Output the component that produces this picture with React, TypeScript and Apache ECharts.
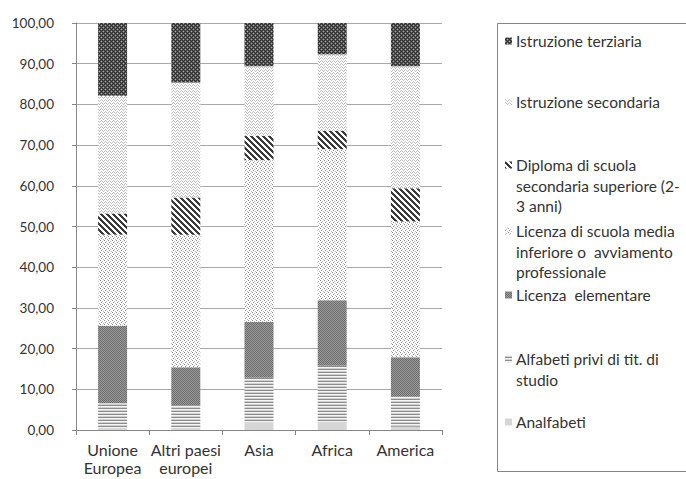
import React, { useEffect, useRef } from "react";
import * as echarts from "echarts";

// Area di provenienza (etichette dell'asse x)
const categories = ["Unione\nEuropea", "Altri paesi\neuropei", "Asia", "Africa", "America"];

// Titolo di studio, valori percentuali per area
const analfabeti = [0.3, 0.3, 1.8, 2.05, 0.8];
const alfabetiPrivi = [6.3, 5.8, 11.05, 13.75, 7.4];
const licenzaElementare = [19.0, 9.3, 13.75, 16.1, 9.65];
const licenzaMedia = [22.4, 32.6, 39.7, 37.1, 33.35];
const diploma = [5.2, 9.1, 6.0, 4.5, 8.2];
const istruzioneSecondaria = [28.9, 28.3, 17.1, 18.8, 30.0];
const istruzioneTerziaria = [17.9, 14.6, 10.6, 7.7, 10.6];

// Nomi delle serie, dal basso verso l'alto della pila
const seriesNames = [
  "Analfabeti",
  "Alfabeti privi di tit. di studio",
  "Licenza  elementare",
  "Licenza di scuola media inferiore o  avviamento professionale",
  "Diploma di scuola secondaria superiore (2-3 anni)",
  "Istruzione secondaria",
  "Istruzione terziaria",
];
const seriesData = [
  analfabeti,
  alfabetiPrivi,
  licenzaElementare,
  licenzaMedia,
  diploma,
  istruzioneSecondaria,
  istruzioneTerziaria,
];

// Testo della legenda (dall'alto verso il basso) con gli a capo
const legendLabels = [
  "Istruzione terziaria",
  "Istruzione secondaria",
  "Diploma di scuola\nsecondaria superiore (2-\n3 anni)",
  "Licenza di scuola media\ninferiore o  avviamento\nprofessionale",
  "Licenza  elementare",
  "Alfabeti privi di tit. di\nstudio",
  "Analfabeti",
];
const legendLineY = [41, 102, 165, 231, 295, 359, 422];

type Tile = { rows: string[]; colors: Record<string, string> };

const tiles: Tile[] = [
  // Analfabeti: grigio chiaro pieno
  { rows: ["a"], colors: { a: "#d6d6d6" } },
  // Alfabeti privi: righe orizzontali
  { rows: ["g", "w", "l"], colors: { g: "#8c8c8c", w: "#f4f4f4", l: "#d2d2d2" } },
  // Licenza elementare: grigio medio a scacchi fini
  { rows: ["mlml", "lmlm", "mlml", "lmlm"], colors: { m: "#6c6c6c", l: "#9c9c9c" } },
  // Licenza media: puntinato chiaro
  { rows: ["a...", "..b.", ".a..", "...b"], colors: { a: "#8a8a8a", b: "#b8b8b8", ".": "#ffffff" } },
  // Diploma: tratteggio diagonale
  {
    rows: ["ddd...", ".ddd..", "..ddd.", "...ddd", "d...dd", "dd...d"],
    colors: { d: "#3a3a3a", ".": "#ffffff" },
  },
  // Istruzione secondaria: onde chiare
  { rows: [".g..", "g.g.", "...g"], colors: { g: "#bcbcbc", ".": "#ffffff" } },
  // Istruzione terziaria: scuro puntinato
  { rows: ["dmdm", "mlmd", "dmdm", "mdml"], colors: { d: "#2e2e2e", m: "#5a5a5a", l: "#adadad" } },
];

function makePattern(t: Tile) {
  const w = t.rows[0].length;
  const h = t.rows.length;
  const c = document.createElement("canvas");
  c.width = w;
  c.height = h;
  const ctx = c.getContext("2d")!;
  for (let y = 0; y < h; y++) {
    for (let x = 0; x < w; x++) {
      ctx.fillStyle = t.colors[t.rows[y][x]];
      ctx.fillRect(x, y, 1, 1);
    }
  }
  return { image: c, repeat: "repeat", imageWidth: w, imageHeight: h } as any;
}

export default function App() {
  const ref = useRef<HTMLDivElement>(null);

  useEffect(() => {
    document.body.style.margin = "0";
    document.documentElement.style.overflow = "hidden";
    if (!ref.current) return;
    const chart = echarts.init(ref.current, undefined, { renderer: "svg" });
    const patterns = tiles.map(makePattern);
    const font = "Lato";
    const textColor = "#333333";
    const lineH = 20.7;

    const legendGraphics: any[] = [
      {
        type: "rect",
        shape: { x: 497.5, y: 23.5, width: 190, height: 448 },
        style: { fill: "none", stroke: "#868686", lineWidth: 1 },
        silent: true,
      },
    ];
    legendLabels.forEach((label, i) => {
      const seriesIdx = seriesNames.length - 1 - i;
      const y = legendLineY[i];
      legendGraphics.push({
        type: "rect",
        shape: { x: 505, y: y - 3.5, width: 7, height: 7 },
        style: { fill: patterns[seriesIdx] },
        silent: true,
      });
      legendGraphics.push({
        type: "text",
        x: 516,
        y: y - lineH / 2,
        style: {
          text: label,
          font: `15.5px ${font}`,
          fill: textColor,
          lineHeight: lineH,
          verticalAlign: "top",
        },
        silent: true,
      });
    });

    chart.setOption({
      animation: false,
      textStyle: { fontFamily: font },
      grid: {
        left: 76,
        right: 244,
        top: 23,
        bottom: 49,
        containLabel: false,
        outerBoundsMode: "none",
      },
      xAxis: {
        type: "category",
        data: categories,
        axisLine: { lineStyle: { color: "#868686" } },
        axisTick: { show: true, length: 5, lineStyle: { color: "#868686" } },
        axisLabel: {
          color: textColor,
          fontSize: 16,
          lineHeight: 18.5,
          margin: 10,
          interval: 0,
          fontFamily: font,
        },
      },
      yAxis: {
        type: "value",
        min: 0,
        max: 100,
        interval: 10,
        axisLine: { show: true, lineStyle: { color: "#868686" } },
        axisTick: { show: true, length: 4, lineStyle: { color: "#868686" } },
        splitLine: { lineStyle: { color: "#a8a8a8" } },
        axisLabel: {
          color: textColor,
          fontSize: 13.5,
          margin: 22,
          fontFamily: font,
          formatter: (v: number) => v.toFixed(2).replace(".", ","),
        },
      },
      series: seriesNames.map((name, i) => ({
        name,
        type: "bar",
        stack: "totale",
        barWidth: 29,
        data: seriesData[i],
        itemStyle: { color: patterns[i] },
        emphasis: { disabled: true },
      })),
      graphic: legendGraphics,
    });

    return () => chart.dispose();
  }, []);

  return <div ref={ref} style={{ width: 686, height: 479, overflow: "hidden" }} />;
}
